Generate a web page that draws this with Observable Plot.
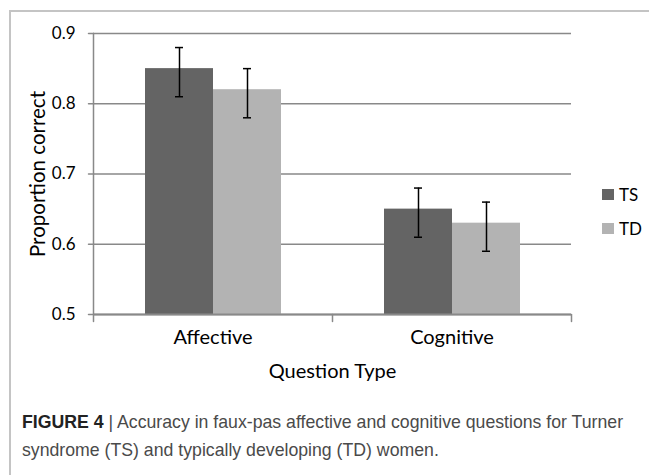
<!DOCTYPE html>
<html>
<head>
<meta charset="utf-8">
<script src="https://cdn.jsdelivr.net/npm/d3@7"></script>
<script src="https://cdn.jsdelivr.net/npm/@observablehq/plot@0.6"></script>
<style>
  html, body { margin: 0; padding: 0; background: #fff; }
  body { width: 649px; height: 475px; position: relative; overflow: hidden; }
  #frame { position: absolute; left: 9px; top: 10px; width: 660px; height: 480px;
           border-left: 2px solid #c4c4c4; border-top: 2px solid #c4c4c4; }
  #chart { position: absolute; left: 0; top: 0; }
  #legend { position: absolute; left: 602px; top: 184px; font-family: Lato, "Open Sans", sans-serif;
            font-size: 17px; color: #000; }
  .item { display: flex; align-items: center; height: 20px; margin-bottom: 14px; }
  .sw { width: 12px; height: 11px; margin-right: 5px; }
  #caption { position: absolute; left: 22px; top: 408px; width: 625px;
             font-family: "Liberation Sans", sans-serif;
             font-size: 17.7px; line-height: 28px; color: #4a4a4a; }
  #caption div { white-space: nowrap; }
  #caption b { color: #222; }
</style>
</head>
<body>
<div id="frame"></div>
<div id="chart"></div>
<div id="legend"></div>
<div id="caption">
  <div><b>FIGURE 4</b><span> | Accuracy in faux-pas affective and cognitive questions for Turner</span></div>
  <div><span>syndrome (TS) and typically developing (TD) women.</span></div>
</div>
<script>
// ---- data ----
const categories = ["Affective", "Cognitive"];
const groups = ["TS", "TD"];
const tsValues = [0.85, 0.65];
const tdValues = [0.82, 0.63];
const tsLow = [0.81, 0.61];
const tsHigh = [0.88, 0.68];
const tdLow = [0.78, 0.59];
const tdHigh = [0.85, 0.66];
const yTicks = [0.5, 0.6, 0.7, 0.8, 0.9];
const yDomain = [0.5, 0.9];
const groupColors = ["#646464", "#b3b3b3"];
const xTitle = "Question Type";
const yTitle = "Proportion correct";

const rows = categories.flatMap((c, i) => [
  {cat: c, group: groups[0], value: tsValues[i], lo: tsLow[i], hi: tsHigh[i]},
  {cat: c, group: groups[1], value: tdValues[i], lo: tdLow[i], hi: tdHigh[i]}
]);

const gray = "#898989";
const font = "Lato, 'Open Sans', sans-serif";
const tickShape = {draw(ctx, l) { ctx.moveTo(0, 0); ctx.lineTo(0, -l); }};
const first = () => categories[0];
const last = () => categories[categories.length - 1];

const chart = Plot.plot({
  width: 649,
  height: 395,
  marginLeft: 93,
  marginRight: 78,
  marginTop: 33,
  marginBottom: 81,
  style: {background: "transparent", fontFamily: font, fontSize: "17px", color: "#000", overflow: "visible"},
  fx: {domain: categories, padding: 0, axis: null},
  x: {domain: groups, paddingInner: 0, paddingOuter: 0.757, axis: null},
  y: {domain: yDomain, axis: null},
  color: {domain: groups, range: groupColors},
  marks: [
    Plot.gridY(yTicks, {stroke: gray, strokeOpacity: 1, strokeWidth: 1.5}),
    Plot.barY(rows, {fx: "cat", x: "group", y1: yDomain[0], y2: "value", fill: "group"}),
    Plot.ruleY([yDomain[0]], {stroke: gray, strokeWidth: 2}),
    // left axis line & ticks (first facet only)
    Plot.vector([0], {fx: first, frameAnchor: "top-left", length: 281, rotate: 180, anchor: "start",
                      stroke: gray, strokeWidth: 1.5, shape: tickShape}),
    Plot.vector(yTicks, {fx: first, y: d => d, frameAnchor: "left", length: 5, rotate: -90, anchor: "start",
                         stroke: gray, strokeWidth: 1.5, shape: tickShape}),
    Plot.text(yTicks, {fx: first, y: d => d, text: d => d.toFixed(1), frameAnchor: "left",
                       dx: -18, textAnchor: "end", fill: "#000", fontSize: 17}),
    // bottom boundary ticks
    Plot.vector([0], {frameAnchor: "bottom-left", length: 7, rotate: 180, anchor: "start",
                      stroke: gray, strokeWidth: 1.5, shape: tickShape}),
    Plot.vector([0], {fx: last, frameAnchor: "bottom-right", length: 7, rotate: 180, anchor: "start",
                      stroke: gray, strokeWidth: 1.5, shape: tickShape}),
    // error bars
    Plot.ruleX(rows, {fx: "cat", x: "group", y1: "lo", y2: "hi", stroke: "#000", strokeWidth: 1.5}),
    Plot.tickY(rows, {fx: "cat", x: "group", y: "lo", stroke: "#000", strokeWidth: 1.5, insetLeft: 30, insetRight: 30}),
    Plot.tickY(rows, {fx: "cat", x: "group", y: "hi", stroke: "#000", strokeWidth: 1.5, insetLeft: 30, insetRight: 30}),
    // category labels
    Plot.text(categories, {fx: d => d, text: d => d, frameAnchor: "bottom", dy: 29, fill: "#000", fontSize: 20}),
    // titles
    Plot.text([xTitle], {fx: first, text: d => d, frameAnchor: "bottom-right", dy: 63, textAnchor: "middle", fill: "#000", fontSize: 20}),
    Plot.text([yTitle], {fx: first, text: d => d, frameAnchor: "left", dx: -55, rotate: -90, textAnchor: "middle", fill: "#000", fontSize: 20.5})
  ]
});
document.getElementById("chart").appendChild(chart);

// legend
const legend = document.getElementById("legend");
groups.forEach((g, i) => {
  const item = document.createElement("div");
  item.className = "item";
  item.innerHTML = `<span class="sw" style="background:${groupColors[i]}"></span><span>${g}</span>`;
  legend.appendChild(item);
});
</script>
</body>
</html>
